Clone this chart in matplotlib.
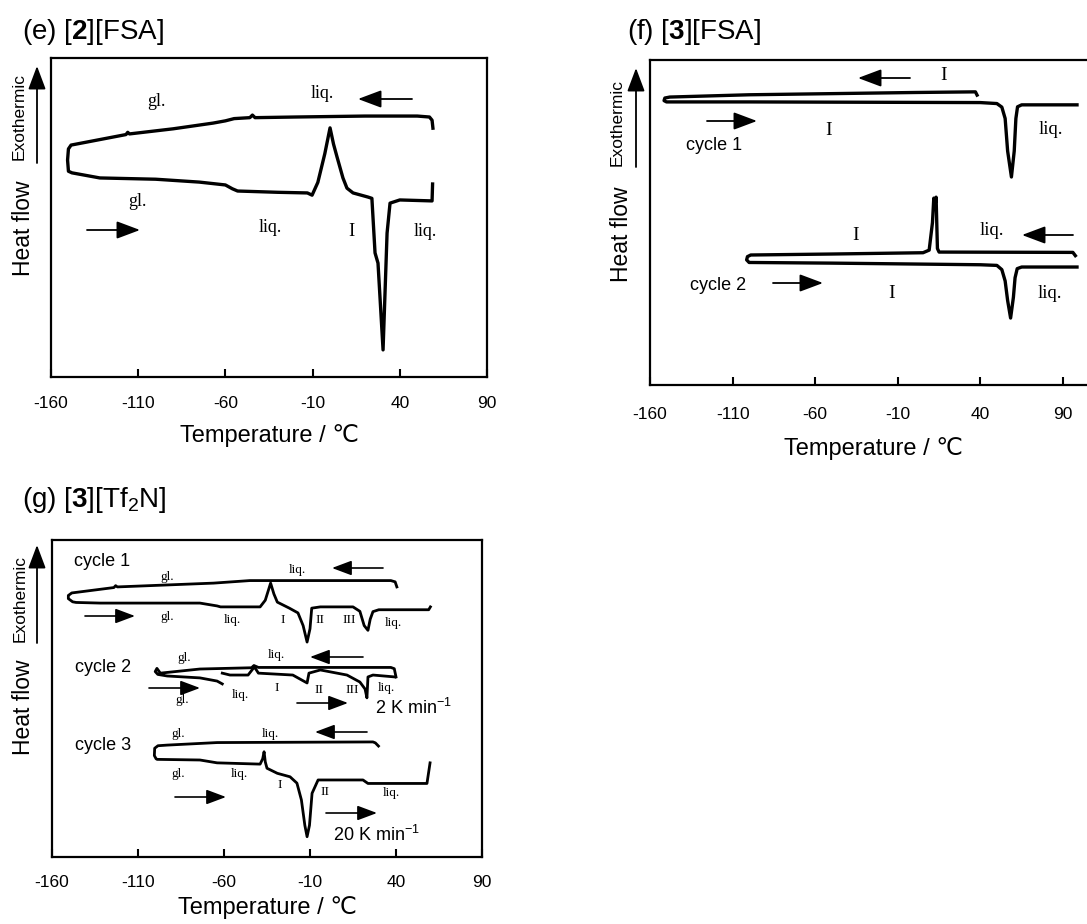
import matplotlib
matplotlib.use("Agg")
import matplotlib.pyplot as plt
from matplotlib.patches import FancyArrowPatch

# (e) [2][FSA]  -- one loop: cooling (right to left) then heating (left to right)
e_temp = [59.0, 58.5, 57, 50, 20, -20, -43, -44.5, -46, -55, -60, -67, -90, -115, -116, -117,
          -148.5, -150, -150.5, -150, -148, -132, -100, -75, -60, -56, -53, -30, -13, -10.3,
          -7, -3, 0, 2, 4, 7.4, 9.7, 13.2, 21.8, 24, 25.8, 27.5, 30.4, 32.7, 34.4, 40, 58.5, 58.8]
e_flow = [78.0, 80.5, 81.5, 81.8, 81.8, 81.5, 81.3, 82.1, 81.3, 81.0, 80.3, 79.6, 77.8, 76.2, 76.7, 76.0,
          72.7, 71.5, 68.0, 64.5, 64.0, 62.4, 62.0, 61.1, 60.2, 59.0, 58.3, 57.9, 57.7, 57.0,
          61.0, 70.0, 78.1, 73.0, 69.0, 62.4, 59.2, 57.7, 56.4, 56.0, 38.9, 35.7, 8.5, 45.1, 54.5, 55.5, 55.2, 60.5]

# (f) [3][FSA]
f1_temp = [38, 37, 0, -100, -148, -151, -151.5, -150, -100, 40, 50, 53, 55, 56.5, 58.8, 60.5, 61.5, 62.5, 65, 98.5]
f1_flow = [89.2, 90.2, 90.0, 89.3, 88.6, 88.3, 87.5, 87.1, 87.1, 86.9, 86.6, 85.5, 82.0, 72.0, 64.0, 72.0, 82.0, 85.6, 86.2, 86.2]
f2_temp = [97.5, 96, 15, 14, 13.2, 12.5, 11.8, 11, 9, 5.3, -50, -99, -101, -101.5, -100, -50, 40, 50, 53, 55,
           56.5, 58.3, 60, 61, 62.3, 65, 98.5]
f2_flow = [39.8, 40.8, 40.9, 42.0, 57.8, 55.0, 57.5, 50.0, 41.5, 40.7, 40.3, 40.0, 39.5, 38.5, 37.7, 37.5, 37.0, 36.8,
           35.5, 32.0, 26.0, 20.6, 27.0, 33.0, 35.8, 36.3, 36.3]

# (g) [3][Tf2N]
g1_temp = [40.5, 39.5, 37, -45, -66, -122, -123, -124, -148.5, -150.5, -150.5, -148, -146, -132, -74, -64, -62,
           -39, -36, -32.9, -31, -29, -22, -17, -14, -11.7, -10, -9, -4, 15, 19, 21.5, 23.7, 25, 26.6, 30, 59, 60]
g1_flow = [85.2, 86.8, 87.2, 87.2, 86.4, 85.2, 85.6, 85.0, 83.3, 82.5, 81.5, 80.5, 80.3, 80.1, 80.1, 79.2, 78.9,
           78.9, 81.0, 86.4, 83.0, 80.4, 78.5, 77.0, 73.0, 67.8, 72.0, 78.5, 78.9, 78.9, 77.5, 73.0, 71.5, 75.0, 77.4,
           78.0, 78.0, 78.9]
g2a_temp = [40, 39, 37, -40, -42.6, -44, -74, -97, -99, -100, -98.5, -93, -74, -64, -61]
g2a_flow = [56.8, 59.4, 59.8, 59.8, 60.4, 59.7, 59.3, 58.0, 59.5, 58.5, 57.6, 57.1, 56.5, 55.5, 54.6]
g2b_temp = [-61, -56.5, -46, -43, -42.6, -40, -20, -14.7, -11.7, -10.6, -4, 11.5, 19, 22, 23.1, 23.7, 26.6, 39.4]
g2b_flow = [58.0, 57.4, 57.4, 59.5, 60.2, 58.0, 57.4, 55.8, 54.9, 58.0, 59.0, 57.4, 55.2, 53.0, 50.2, 56.8, 57.4, 56.8]
g3_temp = [29.8, 28, 26.6, -64, -93, -98.4, -100.3, -100.5, -99.5, -98.9, -74, -64, -39, -37.5, -36.7, -36, -35,
           -29, -21.6, -17.6, -15, -13, -11.7, -10.3, -8.8, -5.3, 20.8, 23.7, 58, 59.8]
g3_flow = [35.0, 36.0, 36.3, 36.1, 35.3, 35.1, 34.3, 32.0, 31.0, 30.8, 30.6, 29.7, 29.3, 31.0, 33.2, 30.0, 28.0,
           26.4, 25.3, 23.3, 18.0, 10.0, 6.4, 10.0, 20.1, 24.3, 24.3, 23.2, 23.2, 29.7]

ticks = [-160, -110, -60, -10, 40, 90]

W, H = 1087, 924
plt.rcParams["font.family"] = ["Liberation Sans", "DejaVu Sans"]
plt.rcParams["mathtext.fontset"] = "custom"
plt.rcParams["mathtext.rm"] = "Liberation Sans"
plt.rcParams["mathtext.bf"] = "Liberation Sans:bold"
plt.rcParams["mathtext.it"] = "Liberation Sans:italic"

fig = plt.figure(figsize=(W / 100, H / 100), dpi=100)


def setup_axes(ax, xmax, pad=14, labelpad=8):
    ax.set_xlim(-160, xmax)
    ax.set_ylim(0, 100)
    ax.set_xticks(ticks)
    ax.set_xticklabels([str(t) for t in ticks])
    ax.set_yticks([])
    ax.tick_params(axis="x", direction="in", length=6, width=1.5, labelsize=12.5, pad=pad)
    for sp in ax.spines.values():
        sp.set_linewidth(1.6)
    ax.set_xlabel("Temperature / ℃", fontsize=17, labelpad=labelpad)


def ftext(x, y, s, **kw):
    kw.setdefault("ha", "center")
    kw.setdefault("va", "center")
    fig.text(x / W, 1 - y / H, s, **kw)


def farrow(x1, y1, x2, y2, ms=18, lw=1.3):
    fig.add_artist(FancyArrowPatch((x1 / W, 1 - y1 / H), (x2 / W, 1 - y2 / H),
                                   transform=fig.transFigure,
                                   arrowstyle="-|>,head_length=0.8,head_width=0.3",
                                   mutation_scale=ms, lw=lw, color="k",
                                   shrinkA=0, shrinkB=0))


def ylabels(xh, yh, xe, ye, xa, ya1, ya2):
    ftext(xh, yh, "Heat flow", rotation=90, fontsize=16.5)
    ftext(xe, ye, "Exothermic", rotation=90, fontsize=12.5)
    farrow(xa, ya1, xa, ya2, ms=18, lw=1.3)


serif = "Liberation Serif"

# ---- panel (e)
ax_e = fig.add_axes([51 / W, 1 - 377 / H, 436 / W, 319 / H])
ax_e.plot(e_temp, e_flow, color="k", lw=2.4, solid_joinstyle="round")
setup_axes(ax_e, 90, pad=14, labelpad=9)
fig.text(22 / W, 1 - 39 / H, r"(e) [$\mathbf{2}$][FSA]", fontsize=20, va="baseline")
ylabels(24, 228, 19, 117, 37, 163, 66)
ftext(156, 102, "gl.", family=serif, fontsize=13)
ftext(322, 93, "liq.", family=serif, fontsize=13)
farrow(412, 99, 358, 99)
ftext(137, 202, "gl.", family=serif, fontsize=13)
farrow(87, 230, 140, 230)
ftext(270, 228, "liq.", family=serif, fontsize=13)
ftext(351, 231, "I", family=serif, fontsize=13.5)
ftext(425, 231, "liq.", family=serif, fontsize=13)

# ---- panel (f)
ax_f = fig.add_axes([650 / W, 1 - 385 / H, 446 / W, 325 / H])
ax_f.plot(f1_temp, f1_flow, color="k", lw=2.4, solid_joinstyle="round")
ax_f.plot(f2_temp, f2_flow, color="k", lw=2.4, solid_joinstyle="round")
setup_axes(ax_f, 110, pad=16, labelpad=11)
fig.text(627 / W, 1 - 39 / H, r"(f) [$\mathbf{3}$][FSA]", fontsize=20, va="baseline")
ylabels(622, 234, 617, 122, 636, 167, 68)
farrow(910, 78, 858, 78)
ftext(944, 76, "I", family=serif, fontsize=14)
farrow(707, 121, 757, 121)
ftext(829, 130, "I", family=serif, fontsize=14)
ftext(714, 146, "cycle 1", fontsize=13)
ftext(1051, 129, "liq.", family=serif, fontsize=13.5)
ftext(856, 235, "I", family=serif, fontsize=14)
ftext(992, 230, "liq.", family=serif, fontsize=13.5)
farrow(1073, 235, 1022, 235)
ftext(718, 286, "cycle 2", fontsize=13)
farrow(773, 283, 823, 283)
ftext(892, 293, "I", family=serif, fontsize=14)
ftext(1050, 293, "liq.", family=serif, fontsize=13.5)

# ---- panel (g)
ax_g = fig.add_axes([52 / W, 1 - 857 / H, 430 / W, 317 / H])
for t, f in [(g1_temp, g1_flow), (g2a_temp, g2a_flow), (g2b_temp, g2b_flow), (g3_temp, g3_flow)]:
    ax_g.plot(t, f, color="k", lw=2.0, solid_joinstyle="round")
setup_axes(ax_g, 90, pad=13, labelpad=4)
fig.text(22 / W, 1 - 507 / H, r"(g) [$\mathbf{3}$][Tf$_2$N]", fontsize=20, va="baseline")
ylabels(24, 707, 20, 598, 37, 643, 545)
sm = 9.5
ftext(102, 562, "cycle 1", fontsize=13)
ftext(167, 577, "gl.", family=serif, fontsize=sm)
ftext(297, 570, "liq.", family=serif, fontsize=sm)
farrow(383, 568, 332, 568, ms=15, lw=1.2)
farrow(85, 616, 135, 616, ms=15, lw=1.2)
ftext(167, 617, "gl.", family=serif, fontsize=sm)
ftext(232, 620, "liq.", family=serif, fontsize=sm)
ftext(283, 620, "I", family=serif, fontsize=sm)
ftext(320, 620, "II", family=serif, fontsize=sm)
ftext(349, 620, "III", family=serif, fontsize=sm)
ftext(393, 623, "liq.", family=serif, fontsize=sm)

ftext(103, 667, "cycle 2", fontsize=13)
ftext(184, 658, "gl.", family=serif, fontsize=sm)
ftext(276, 655, "liq.", family=serif, fontsize=sm)
farrow(363, 657, 310, 657, ms=15, lw=1.2)
farrow(149, 688, 200, 688, ms=15, lw=1.2)
ftext(182, 700, "gl.", family=serif, fontsize=sm)
ftext(240, 695, "liq.", family=serif, fontsize=sm)
ftext(277, 688, "I", family=serif, fontsize=sm)
ftext(319, 690, "II", family=serif, fontsize=sm)
ftext(352, 690, "III", family=serif, fontsize=sm)
ftext(386, 688, "liq.", family=serif, fontsize=sm)
farrow(297, 703, 348, 703, ms=15, lw=1.2)
ftext(375, 708, r"2 K min$^{-1}$", fontsize=13, ha="left")

ftext(178, 734, "gl.", family=serif, fontsize=sm)
ftext(270, 734, "liq.", family=serif, fontsize=sm)
farrow(367, 732, 315, 732, ms=15, lw=1.2)
ftext(103, 745, "cycle 3", fontsize=13)
ftext(178, 774, "gl.", family=serif, fontsize=sm)
ftext(239, 774, "liq.", family=serif, fontsize=sm)
ftext(280, 785, "I", family=serif, fontsize=sm)
ftext(325, 792, "II", family=serif, fontsize=sm)
ftext(391, 793, "liq.", family=serif, fontsize=sm)
farrow(175, 797, 226, 797, ms=15, lw=1.2)
farrow(326, 813, 377, 813, ms=15, lw=1.2)
ftext(333, 835, r"20 K min$^{-1}$", fontsize=13, ha="left")

fig.savefig("out.png", dpi=100)
